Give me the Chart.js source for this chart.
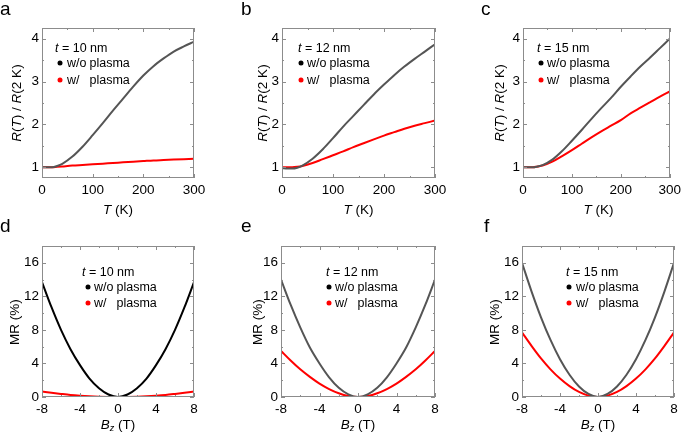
<!DOCTYPE html>
<html>
<head>
<meta charset="utf-8">
<script src="https://cdn.jsdelivr.net/npm/chart.js@4.4.0/dist/chart.umd.min.js"></script>
<style>
  body { margin: 0; background: #fff; }
  #fig { position: relative; width: 685px; height: 433px; overflow: hidden;
         font-family: 'Liberation Sans', Arial, Helvetica, sans-serif; color: #000; }
  #fig canvas { position: absolute; }
  .lbl { position: absolute; white-space: nowrap; line-height: 1; }
  .letter { font-size: 19px; }
  .leg { font-size: 12.5px; transform: translateY(-50%); }
  .leg .w { display: inline-block; width: 22.5px; }
  .dot { position: absolute; width: 5px; height: 5px; border-radius: 50%; transform: translate(-50%, -50%); }
  .xt { font-size: 13.5px; transform: translate(-50%, -50%); }
  .yt { font-size: 13.5px; transform: translate(-50%, -50%) rotate(-90deg); }
  sub { font-size: 9px; vertical-align: -2px; }
  .box { position: absolute; box-sizing: border-box; border: 1px solid #8c8c8c; }
  .tk { position: absolute; background: #8c8c8c; }
</style>
</head>
<body>
<div id="fig"></div>
<script>
// ---- data: temperature dependence, R(T)/R(2 K) ----
const temps = [0, 10, 20, 30, 40, 60, 80, 100, 120, 140, 160, 180, 200, 220, 240, 260, 280, 300]

const rt10Without = [1.0, 1.0, 1.0, 1.03, 1.08, 1.25, 1.48, 1.75, 2.03, 2.32, 2.6, 2.88, 3.14, 3.36, 3.54, 3.7, 3.82, 3.93]
const rt10With    = [1.0, 1.0, 1.0, 1.01, 1.02, 1.04, 1.055, 1.07, 1.085, 1.1, 1.115, 1.13, 1.145, 1.16, 1.17, 1.18, 1.19, 1.2]
const rt12Without = [0.98, 0.97, 0.97, 0.99, 1.04, 1.2, 1.42, 1.68, 1.95, 2.2, 2.45, 2.7, 2.93, 3.15, 3.35, 3.53, 3.7, 3.87]
const rt12With    = [1.0, 1.0, 1.0, 1.01, 1.03, 1.1, 1.19, 1.28, 1.37, 1.47, 1.56, 1.65, 1.74, 1.82, 1.9, 1.97, 2.03, 2.09]
const rt15Without = [1.0, 1.0, 1.0, 1.02, 1.05, 1.18, 1.38, 1.62, 1.87, 2.13, 2.38, 2.62, 2.88, 3.12, 3.35, 3.56, 3.78, 4.0]
const rt15With    = [1.0, 1.0, 1.0, 1.02, 1.04, 1.13, 1.26, 1.4, 1.55, 1.7, 1.84, 1.97, 2.1, 2.26, 2.39, 2.52, 2.65, 2.77]

// ---- data: magnetoresistance MR (%) vs Bz (T) ----
const fields = [-8, -7, -6, -5, -4, -3, -2, -1, 0, 1, 2, 3, 4, 5, 6, 7, 8]

const mr10Without = [13.7, 10.7, 8.0, 5.7, 3.8, 2.2, 1.05, 0.3, 0, 0.3, 1.05, 2.2, 3.8, 5.7, 8.0, 10.7, 13.7]
const mr10With    = [0.65, 0.5, 0.37, 0.25, 0.16, 0.09, 0.04, 0.01, 0, 0.01, 0.04, 0.09, 0.16, 0.25, 0.37, 0.5, 0.65]
const mr12Without = [14.0, 11.0, 8.3, 5.9, 4.0, 2.35, 1.1, 0.32, 0, 0.32, 1.1, 2.35, 4.0, 5.9, 8.3, 11.0, 14.0]
const mr12With    = [5.5, 4.35, 3.3, 2.4, 1.6, 0.95, 0.45, 0.12, 0, 0.12, 0.45, 0.95, 1.6, 2.4, 3.3, 4.35, 5.5]
const mr15Without = [16.0, 12.6, 9.5, 6.8, 4.5, 2.65, 1.25, 0.36, 0, 0.36, 1.25, 2.65, 4.5, 6.8, 9.5, 12.6, 16.0]
const mr15With    = [7.7, 6.1, 4.6, 3.3, 2.2, 1.3, 0.6, 0.16, 0, 0.16, 0.6, 1.3, 2.2, 3.3, 4.6, 6.1, 7.7]

// tick values
const tempMajor = [0, 100, 200, 300]
const tempMinor = [50, 150, 250]
const ratioMajor = [1, 2, 3, 4]
const ratioMinor = [1.5, 2.5, 3.5]
const fieldMajor = [-8, -4, 0, 4, 8]
const fieldMinor = [-6, -2, 2, 6]
const mrMajor = [0, 4, 8, 12, 16]
const mrMinor = [2, 6, 10, 14]

const thickness = ['10', '12', '15']

const GRAY = '#555'
const RED = '#ff0000'
const FONT = "'Liberation Sans', Arial, Helvetica, sans-serif"

const fig = document.getElementById('fig')

function addEl(cls, x, y, w, h) {
  const d = document.createElement('div')
  d.className = cls
  d.style.left = x + 'px'
  d.style.top = y + 'px'
  d.style.width = w + 'px'
  d.style.height = h + 'px'
  fig.appendChild(d)
  return d
}

function addLabel(cls, html, x, y) {
  const d = document.createElement('div')
  d.className = 'lbl ' + cls
  d.innerHTML = html
  d.style.left = x + 'px'
  d.style.top = y + 'px'
  fig.appendChild(d)
  return d
}

function addDot(color, x, y) {
  const d = addEl('dot', x, y, 5, 5)
  d.style.background = color
}

// box with inward ticks on all four sides, placed from the chart's own scales
function drawFrame(chart, p) {
  const { left, right, top, bottom } = chart.chartArea
  const ox = p.x0, oy = p.y0
  const L = ox + Math.round(left), R = ox + Math.round(right)
  const T = oy + Math.round(top), B = oy + Math.round(bottom)
  addEl('box', L, T, R - L, B - T)
  const sx = chart.scales.x, sy = chart.scales.y
  const xt = (vals, len) => vals.forEach(v => {
    const q = ox + Math.round(sx.getPixelForValue(v))
    addEl('tk', q, B - len, 1, len)
    addEl('tk', q, T, 1, len)
  })
  const yt = (vals, len) => vals.forEach(v => {
    const q = oy + Math.round(sy.getPixelForValue(v))
    addEl('tk', L, q, len, 1)
    addEl('tk', R - len, q, len, 1)
  })
  xt(p.xMajor, 4); xt(p.xMinor, 2)
  yt(p.yMajor, 4); yt(p.yMinor, 2)
}

function makePanel(p) {
  const canvas = document.createElement('canvas')
  canvas.width = p.w
  canvas.height = p.h
  canvas.style.left = p.x0 + 'px'
  canvas.style.top = p.y0 + 'px'
  fig.appendChild(canvas)

  const yWidth = p.area[0] - p.x0
  const xHeight = p.y0 + p.h - p.area[3]

  const chart = new Chart(canvas, {
    type: 'line',
    data: {
      datasets: [
        { data: p.xs.map((x, i) => ({ x, y: p.black[i] })), borderColor: p.blackColor },
        { data: p.xs.map((x, i) => ({ x, y: p.red[i] })), borderColor: RED }
      ]
    },
    options: {
      responsive: false,
      animation: false,
      events: [],
      elements: {
        point: { radius: 0 },
        line: { borderWidth: 2, cubicInterpolationMode: 'monotone', fill: false }
      },
      layout: {
        padding: { left: 0, right: p.x0 + p.w - p.area[2], top: p.area[1] - p.y0, bottom: 0 }
      },
      scales: {
        x: {
          type: 'linear',
          min: p.xRange[0], max: p.xRange[1],
          grid: { display: false, drawTicks: false },
          border: { display: false },
          afterBuildTicks: s => { s.ticks = p.xMajor.map(v => ({ value: v })) },
          afterFit: s => { s.height = xHeight },
          ticks: { color: '#000', padding: 4, maxRotation: 0, font: { family: FONT, size: 13.5 } }
        },
        y: {
          type: 'linear',
          min: p.yRange[0], max: p.yRange[1],
          grid: { display: false, drawTicks: false },
          border: { display: false },
          afterBuildTicks: s => { s.ticks = p.yMajor.map(v => ({ value: v })) },
          afterFit: s => { s.width = yWidth },
          ticks: { color: '#000', padding: 3, font: { family: FONT, size: 13.5 } }
        }
      },
      plugins: {
        legend: { display: false },
        tooltip: { enabled: false }
      }
    }
  })

  drawFrame(chart, p)

  // panel letter, legend and axis titles as text
  addLabel('letter', p.letter, p.letterPos[0], p.letterPos[1])
  addLabel('leg', '<i>t</i> = ' + p.t + ' nm', p.leg.tx, p.leg.ty)
  addDot('#000', p.leg.dx, p.leg.dy1)
  addDot(RED, p.leg.dx, p.leg.dy2)
  addLabel('leg', '<span class="w">w/o</span>plasma', p.leg.textX, p.leg.dy1)
  addLabel('leg', '<span class="w">w/</span>plasma', p.leg.textX, p.leg.dy2)
  const cx = (p.area[0] + p.area[2]) / 2
  const cy = (p.area[1] + p.area[3]) / 2
  addLabel('xt', p.xTitle, cx, p.xTitleY)
  addLabel('yt', p.yTitle, p.yTitleX, cy)
}

const topCols = [
  { x0: 0, w: 228, area: [42, 28, 194, 178], letterPos: [0, -1], letter: 'a', yTitleX: 17,
    leg: { tx: 55, ty: 48, dx: 60, dy1: 63, dy2: 80, textX: 67 } },
  { x0: 228, w: 227, area: [282, 28, 435, 178], letterPos: [241, -1], letter: 'b', yTitleX: 263,
    leg: { tx: 298, ty: 48, dx: 301, dy1: 63, dy2: 80, textX: 307 } },
  { x0: 455, w: 230, area: [523, 28, 674, 178], letterPos: [481, -1], letter: 'c', yTitleX: 500,
    leg: { tx: 537, ty: 48, dx: 541, dy1: 63, dy2: 80, textX: 547 } }
]
const botCols = [
  { x0: 0, w: 228, area: [42, 246, 194, 397], letterPos: [0, 216], letter: 'd', yTitleX: 15,
    leg: { tx: 82, ty: 272, dx: 88, dy1: 287, dy2: 303, textX: 94 } },
  { x0: 228, w: 227, area: [281, 246, 435, 397], letterPos: [241, 216], letter: 'e', yTitleX: 258,
    leg: { tx: 326, ty: 272, dx: 329, dy1: 287, dy2: 303, textX: 335 } },
  { x0: 455, w: 230, area: [522, 246, 674, 397], letterPos: [484, 216], letter: 'f', yTitleX: 495,
    leg: { tx: 566, ty: 272, dx: 569, dy1: 287, dy2: 303, textX: 576 } }
]

const rtSeries = [[rt10Without, rt10With], [rt12Without, rt12With], [rt15Without, rt15With]]
const mrSeries = [[mr10Without, mr10With], [mr12Without, mr12With], [mr15Without, mr15With]]

topCols.forEach((c, i) => makePanel(Object.assign({}, c, {
  y0: 0, h: 215, t: thickness[i],
  xs: temps, black: rtSeries[i][0], red: rtSeries[i][1], blackColor: GRAY,
  xRange: [0, 300], yRange: [0.75, 4.25],
  xMajor: tempMajor, xMinor: tempMinor, yMajor: ratioMajor, yMinor: ratioMinor,
  xTitle: '<i>T</i> (K)', xTitleY: 210,
  yTitle: '<i>R</i>(<i>T</i>) / <i>R</i>(2 K)'
})))

botCols.forEach((c, i) => makePanel(Object.assign({}, c, {
  y0: 215, h: 218, t: thickness[i],
  xs: fields, black: mrSeries[i][0], red: mrSeries[i][1], blackColor: i === 0 ? '#000' : GRAY,
  xRange: [-8, 8], yRange: [0, 18],
  xMajor: fieldMajor, xMinor: fieldMinor, yMajor: mrMajor, yMinor: mrMinor,
  xTitle: '<i>B<sub>z</sub></i> (T)', xTitleY: 425,
  yTitle: 'MR (%)'
})))
</script>
</body>
</html>
